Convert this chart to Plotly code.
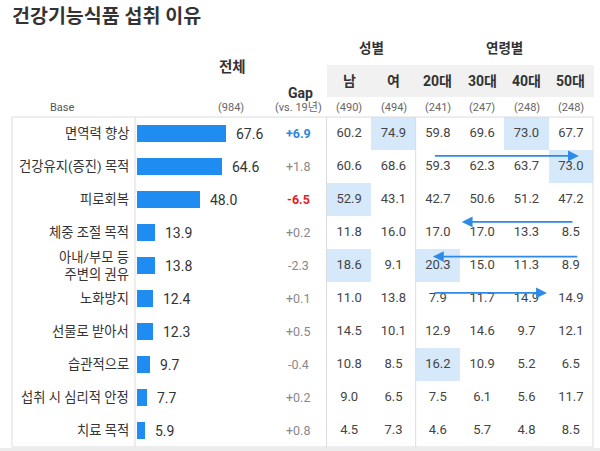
import plotly.graph_objects as go

W, H = 600, 451

# ---------------- data ----------------
title = "건강기능식품 섭취 이유"
categories = ["면역력 향상", "건강유지(증진) 목적", "피로회복", "체중 조절 목적",
              "아내/부모 등<br>주변의 권유", "노화방지", "선물로 받아서", "습관적으로",
              "섭취 시 심리적 안정", "치료 목적"]
total = [67.6, 64.6, 48.0, 13.9, 13.8, 12.4, 12.3, 9.7, 7.7, 5.9]
gap = [6.9, 1.8, -6.5, 0.2, -2.3, 0.1, 0.5, -0.4, 0.2, 0.8]
total_base = "(984)"

groups = ["남", "여", "20대", "30대", "40대", "50대"]
group_bases = ["(490)", "(494)", "(241)", "(247)", "(248)", "(248)"]
male = [60.2, 60.6, 52.9, 11.8, 18.6, 11.0, 14.5, 10.8, 9.0, 4.5]
female = [74.9, 68.6, 43.1, 16.0, 9.1, 13.8, 10.1, 8.5, 6.5, 7.3]
age20 = [59.8, 59.3, 42.7, 17.0, 20.3, 7.9, 12.9, 16.2, 7.5, 4.6]
age30 = [69.6, 62.3, 50.6, 17.0, 15.0, 11.7, 14.6, 10.9, 6.1, 5.7]
age40 = [73.0, 63.7, 51.2, 13.3, 11.3, 14.9, 9.7, 5.2, 5.6, 4.8]
age50 = [67.7, 73.0, 47.2, 8.5, 8.9, 14.9, 12.1, 6.5, 11.7, 8.5]
columns = [male, female, age20, age30, age40, age50]

# highlighted cells (row, column)
highlights = [(0, 1), (0, 4), (1, 5), (2, 0), (4, 0), (4, 2), (7, 2)]
# trend arrows: (row position, tail column, head column)
arrows = [(0.68, 1.9, 5.18), (2.68, 5.07, 2.54), (3.73, 5.18, 1.89), (4.83, 1.89, 4.46)]

# ---------------- helpers ----------------
def px(x):
    return x / W

def py(y):
    return 1 - y / H

FONT = "Roboto, 'Noto Sans CJK KR', 'Noto Sans', sans-serif"
BLUE = "#1e8cf0"
HL = "#d6e9fb"
LINE = "#dcdcdc"

TOP, BOT = 117, 447
rows = list(range(len(categories)))

fig = go.Figure()

# highlight heatmap
z = [[None] * len(groups) for _ in rows]
for r, c in highlights:
    z[r][c] = 1
fig.add_trace(go.Heatmap(z=z, x=list(range(len(groups))), y=rows, xaxis="x2", yaxis="y",
                         colorscale=[[0, HL], [1, HL]], showscale=False, hoverinfo="skip",
                         zmin=0, zmax=1))

# bars
fig.add_trace(go.Bar(x=total, y=rows, orientation="h", marker=dict(color=BLUE, line=dict(width=0)),
                     width=0.52, xaxis="x", yaxis="y", hoverinfo="skip"))

# table values
for ci, col in enumerate(columns):
    fig.add_trace(go.Scatter(x=[ci] * len(col), y=rows, mode="text",
                             text=[f"{v:.1f}" for v in col], xaxis="x2", yaxis="y",
                             textfont=dict(family=FONT, size=13, color="#444"),
                             hoverinfo="skip"))

annotations = []
# title
annotations.append(dict(x=px(10), y=py(16), xref="paper", yref="paper", text=f"<b>{title}</b>",
                        showarrow=False, xanchor="left", yanchor="middle",
                        font=dict(family=FONT, size=19.5, color="#333")))
# row labels
for i, lab in enumerate(categories):
    annotations.append(dict(x=px(131), y=i, xref="paper", yref="y", text=lab, showarrow=False,
                            xanchor="right", yanchor="middle", align="right",
                            font=dict(family=FONT, size=13.3, color="#333")))
# bar value labels
for i, v in enumerate(total):
    annotations.append(dict(x=v, y=i, xref="x", yref="y", text=f"{v:.1f}", showarrow=False,
                            xanchor="left", yanchor="middle", xshift=8,
                            font=dict(family=FONT, size=14, color="#333")))
# gap values
for i, g in enumerate(gap):
    if g >= 5:
        txt, col = f"<b>+{g:.1f}</b>", "#2f86dd"
    elif g <= -5:
        txt, col = f"<b>{g:.1f}</b>", "#e02222"
    else:
        txt, col = (f"+{g:.1f}" if g >= 0 else f"{g:.1f}"), "#888"
    annotations.append(dict(x=px(298), y=i, xref="paper", yref="y", text=txt, showarrow=False,
                            xanchor="center", yanchor="middle",
                            font=dict(family=FONT, size=12.5, color=col)))
# headers
annotations += [
    dict(x=px(233), y=py(68), text="<b>전체</b>", font=dict(family=FONT, size=14.5, color="#333")),
    dict(x=px(300), y=py(93), text="<b>Gap</b>", font=dict(family=FONT, size=14, color="#333")),
    dict(x=px(298), y=py(107), text="(vs. 19년)", font=dict(family=FONT, size=11, color="#666")),
    dict(x=px(62), y=py(107), text="Base", font=dict(family=FONT, size=11, color="#555")),
    dict(x=px(231), y=py(107), text=total_base, font=dict(family=FONT, size=11, color="#666")),
]
for a in annotations[-5:]:
    a.update(xref="paper", yref="paper", showarrow=False, xanchor="center", yanchor="middle")

annotations.append(dict(x=0.5, y=py(48), xref="x2", yref="paper", text="<b>성별</b>", showarrow=False,
                        font=dict(family=FONT, size=13.5, color="#333"), yanchor="middle"))
annotations.append(dict(x=3.5, y=py(48), xref="x2", yref="paper", text="<b>연령별</b>", showarrow=False,
                        font=dict(family=FONT, size=13.5, color="#333"), yanchor="middle"))
for ci, (gname, b) in enumerate(zip(groups, group_bases)):
    annotations.append(dict(x=ci, y=py(81), xref="x2", yref="paper", text=f"<b>{gname}</b>",
                            showarrow=False, yanchor="middle",
                            font=dict(family=FONT, size=14, color="#333")))
    annotations.append(dict(x=ci, y=py(107), xref="x2", yref="paper", text=b, showarrow=False,
                            yanchor="middle", font=dict(family=FONT, size=11, color="#666")))
# arrows
for (ry, c0, c1) in arrows:
    annotations.append(dict(x=c1, y=ry, ax=c0, ay=ry, xref="x2", yref="y", axref="x2", ayref="y",
                            text="", showarrow=True, arrowhead=2, arrowsize=1.2, arrowwidth=1.8,
                            arrowcolor="#2e8ae6", standoff=0, startstandoff=0))

shapes = [
    # header band
    dict(type="rect", xref="paper", yref="paper", x0=px(327), x1=px(594), y0=py(97), y1=py(65),
         fillcolor="#f1f1f1", line=dict(width=0), layer="below"),
    # outer table border
    dict(type="rect", xref="paper", yref="paper", x0=px(12), x1=px(593), y0=py(BOT), y1=py(TOP),
         line=dict(color=LINE, width=1)),
    # vertical separators
    dict(type="line", xref="paper", yref="paper", x0=px(135), x1=px(135), y0=py(BOT), y1=py(TOP),
         line=dict(color=LINE, width=1)),
    dict(type="line", xref="paper", yref="paper", x0=px(326.5), x1=px(326.5), y0=py(BOT), y1=py(TOP),
         line=dict(color=LINE, width=1)),
    dict(type="line", xref="x2", yref="paper", x0=1.5, x1=1.5, y0=py(BOT), y1=py(TOP),
         line=dict(color=LINE, width=1)),
    # bottom gray strip
    dict(type="rect", xref="paper", yref="paper", x0=0, x1=1, y0=0, y1=py(448),
         fillcolor="#ececec", line=dict(width=0), layer="below"),
]

fig.update_layout(
    width=W, height=H, autosize=False,
    margin=dict(l=0, r=0, t=0, b=0),
    paper_bgcolor="white", plot_bgcolor="rgba(0,0,0,0)",
    showlegend=False,
    xaxis=dict(domain=[px(137), px(327)], range=[0, 190 / 1.317], visible=False, fixedrange=True),
    xaxis2=dict(domain=[px(327), px(593)], range=[-0.5, 5.5], visible=False, anchor="y"),
    yaxis=dict(domain=[py(BOT), py(TOP)], range=[9.5, -0.5], visible=False),
    annotations=annotations,
    shapes=shapes,
    bargap=0,
)

fig.write_html("out.html", config={"staticPlot": True},
               post_script="document.body.style.margin='0';document.body.style.overflow='hidden';")
